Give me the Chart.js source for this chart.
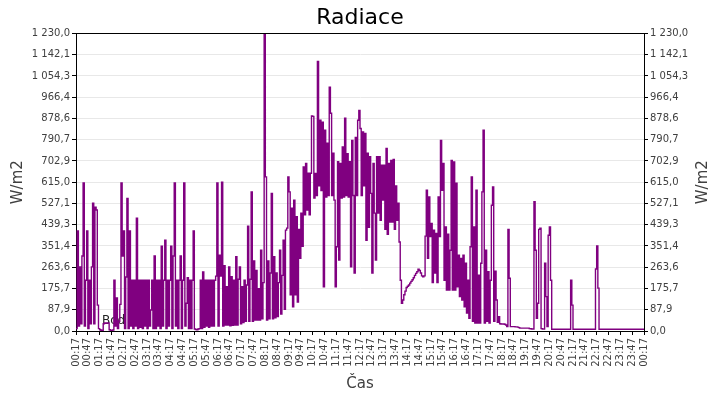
<!DOCTYPE html>
<html>
<head>
<meta charset="utf-8">
<script src="https://cdn.jsdelivr.net/npm/chart.js@4.4.0/dist/chart.umd.min.js"></script>
<style>
    html, body { margin: 0; padding: 0; background: #fff; }
    #graf { display: block; }
</style>
</head>
<body>
<canvas id="graf" width="720" height="400"></canvas>
<script>
// mereni kazde 3 minuty od 00:17
const startMinute = 17;
const stepMinutes = 3;
const yMax = 1230;

const casy = ['00:17', '00:47', '01:17', '01:47', '02:17', '02:47', '03:17', '03:47', '04:17', '04:47',
    '05:17', '05:47', '06:17', '06:47', '07:17', '07:47', '08:17', '08:47', '09:17', '09:47',
    '10:17', '10:47', '11:17', '11:47', '12:17', '12:47', '13:17', '13:47', '14:17', '14:47',
    '15:17', '15:47', '16:17', '16:47', '17:17', '17:47', '18:17', '18:47', '19:17', '19:47',
    '20:17', '20:47', '21:17', '21:47', '22:17', '22:47', '23:17', '23:47', '00:17'];

const yPopisky = ['0,0', '87,9', '175,7', '263,6', '351,4', '439,3', '527,1', '615,0',
    '702,9', '790,7', '878,6', '966,4', '1 054,3', '1 142,1', '1 230,0'];

// W/m2
const radiace00 = [
    10, 413, 20, 265, 30, 310, 612, 20, 210, 413, 10, 210, 30, 265, 528, 30, 512, 500, 107, 10,
    5, 3, 2, 30, 33, 32, 33, 33, 5, 3, 2, 4, 210, 20, 137, 10, 40, 110, 612, 310,
    413, 10, 223, 548, 10, 413, 20, 210, 10, 210, 20, 466, 10, 210, 15, 210, 10, 210, 20, 210,
    10, 210, 20, 87, 210, 10, 310, 10, 210, 20, 210, 10, 351, 20, 210, 375, 10, 210, 20, 210,
    351, 10, 310, 612, 20, 210, 10, 210, 310, 10, 210, 612, 20, 115, 220, 10, 210, 10, 210, 413,
    8, 6, 5, 8, 10, 210, 10, 244, 15, 210, 20, 210, 15, 210, 20, 210, 20, 210, 227, 612
];
const radiace06 = [
    20, 313, 227, 615, 20, 270, 25, 183, 25, 265, 22, 224, 24, 210, 25, 307, 25, 214, 265, 30,
    183, 35, 210, 40, 190, 433, 40, 214, 575, 40, 290, 45, 250, 45, 175, 45, 334, 50, 200, 1230,
    637, 45, 290, 50, 240, 569, 50, 307, 55, 240, 60, 200, 334, 70, 230, 375, 90, 417, 425, 637,
    575, 150, 508, 100, 541, 150, 472, 120, 420, 300, 487, 350, 678, 480, 692, 500, 652, 480, 652, 889,
    887, 550, 651, 560, 1114, 600, 871, 580, 863, 183, 830, 554, 776, 560, 1008, 900, 560, 735, 541, 183,
    348, 700, 293, 692, 550, 761, 554, 880, 560, 733, 554, 700, 265, 788, 560, 240, 800, 560, 871, 912
];
const radiace12 = [
    837, 560, 823, 600, 817, 375, 735, 429, 720, 569, 240, 692, 487, 293, 720, 487, 720, 458, 685, 541,
    685, 420, 755, 400, 692, 450, 705, 450, 709, 420, 600, 458, 528, 368, 210, 115, 128, 150, 165, 180,
    185, 190, 198, 205, 212, 220, 230, 238, 245, 255, 250, 240, 228, 224, 228, 392, 582, 300, 554, 390,
    445, 200, 417, 240, 403, 200, 554, 390, 788, 582, 692, 210, 430, 169, 400, 169, 334, 705, 169, 699,
    169, 611, 183, 313, 142, 300, 128, 313, 100, 280, 74, 210, 53, 348, 637, 40, 430, 33, 582, 33,
    231, 33, 280, 575, 830, 33, 334, 40, 245, 33, 210, 520, 595, 40, 247, 128, 36, 59, 30, 29
];
const radiace18 = [
    29, 29, 28, 25, 18, 420, 218, 18, 18, 18, 18, 17, 17, 16, 14, 12, 12, 12, 12, 12,
    12, 12, 12, 10, 9, 8, 8, 534, 334, 53, 115, 420, 425, 10, 8, 8, 280, 142, 18, 396,
    430, 210, 7, 7, 7, 7, 7, 7, 7, 7, 7, 7, 7, 7, 7, 7, 7, 7, 210, 107,
    7, 7, 7, 7, 7, 7, 7, 7, 7, 7, 7, 7, 7, 7, 7, 7, 7, 7, 7, 256,
    352, 177, 7, 7, 7, 7, 7, 7, 7, 7, 7, 7, 7, 7, 7, 7, 7, 7, 7, 7,
    7, 7, 7, 7, 7, 7, 7, 7, 7, 7, 7, 7, 7, 7, 7, 7, 7, 7, 7, 7,
    7
];

const popisek = 'Bod dat';

const hodnoty = [].concat(radiace00, radiace06, radiace12, radiace18);
const body = hodnoty.map((v, i) => ({ x: startMinute + i * stepMinutes, y: v }));

const fontTick = { family: '"DejaVu Sans"', size: 10 };
const barvaTextu = '#404040';

function yTicky(scale) {
    scale.ticks = yPopisky.map((p, i) => ({ value: i * yMax / (yPopisky.length - 1) }));
}

const ramecek = {
    id: 'ramecek',
    beforeDatasetsDraw(chart) {
        const ctx = chart.ctx;
        const a = chart.chartArea;
        ctx.save();
        ctx.font = '12px "DejaVu Sans"';
        ctx.fillStyle = '#222';
        ctx.textBaseline = 'alphabetic';
        ctx.fillText(popisek, a.left + 26, a.bottom - 7);
        ctx.restore();
    },
    afterDraw(chart) {
        const ctx = chart.ctx;
        const a = chart.chartArea;
        ctx.save();
        ctx.strokeStyle = '#000';
        ctx.lineWidth = 1;
        ctx.beginPath();
        ctx.moveTo(a.left, Math.round(a.top) + 0.5);
        ctx.lineTo(a.right, Math.round(a.top) + 0.5);
        ctx.stroke();

        ctx.translate(703, (a.top + a.bottom) / 2);
        ctx.rotate(-Math.PI / 2);
        ctx.font = '15px "DejaVu Sans"';
        ctx.fillStyle = barvaTextu;
        ctx.textAlign = 'center';
        ctx.textBaseline = 'middle';
        ctx.fillText('W/m2', 0, 0);
        ctx.restore();
    }
};

new Chart(document.getElementById('graf'), {
    type: 'line',
    data: {
        datasets: [{
            label: 'Radiace',
            data: body,
            borderColor: '#800080',
            borderWidth: 1.4,
            pointRadius: 0,
            stepped: true,
            fill: false
        }]
    },
    options: {
        responsive: false,
        animation: false,
        devicePixelRatio: 1,
        layout: { padding: 0 },
        plugins: {
            legend: { display: false },
            tooltip: { enabled: false },
            title: {
                display: true,
                text: 'Radiace',
                color: '#000',
                font: { family: '"DejaVu Sans"', size: 22, weight: 'normal' },
                padding: { top: 5, bottom: 2 }
            }
        },
        scales: {
            x: {
                type: 'linear',
                min: startMinute,
                max: startMinute + 1440,
                afterBuildTicks: (scale) => {
                    scale.ticks = casy.map((c, i) => ({ value: startMinute + i * 30 }));
                },
                afterFit: (scale) => { scale.height = 69; },
                grid: { drawOnChartArea: false, drawTicks: true, tickLength: 4, tickColor: '#000' },
                border: { display: true, color: '#000' },
                ticks: {
                    autoSkip: false,
                    maxRotation: 90,
                    minRotation: 90,
                    padding: 3,
                    color: barvaTextu,
                    font: fontTick,
                    callback: (v, i) => casy[i]
                },
                title: {
                    display: true,
                    text: 'Čas',
                    color: barvaTextu,
                    font: { family: '"DejaVu Sans"', size: 15 },
                    padding: { top: 0, bottom: 7 }
                }
            },
            y: {
                position: 'left',
                min: 0,
                max: yMax,
                afterBuildTicks: yTicky,
                afterFit: (scale) => { scale.width = 76; },
                grid: { color: '#e8e8e8', tickLength: 4, tickColor: '#000' },
                border: { display: true, color: '#000' },
                ticks: {
                    padding: 2,
                    color: barvaTextu,
                    font: fontTick,
                    callback: (v, i) => yPopisky[i]
                },
                title: {
                    display: true,
                    text: 'W/m2',
                    color: barvaTextu,
                    font: { family: '"DejaVu Sans"', size: 15 },
                    padding: { top: 9, bottom: 0 }
                }
            },
            y2: {
                position: 'right',
                min: 0,
                max: yMax,
                afterBuildTicks: yTicky,
                afterFit: (scale) => { scale.width = 76; },
                grid: { drawOnChartArea: false, tickLength: 4, tickColor: '#000' },
                border: { display: true, color: '#000' },
                ticks: {
                    padding: 2,
                    color: barvaTextu,
                    font: fontTick,
                    callback: (v, i) => yPopisky[i]
                }
            }
        }
    },
    plugins: [ramecek]
});
</script>
</body>
</html>
